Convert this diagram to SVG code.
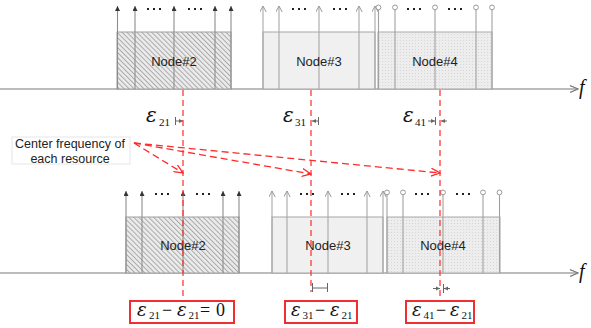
<svg xmlns="http://www.w3.org/2000/svg" width="591" height="328" viewBox="0 0 591 328">
<style>
.axis{stroke:#7a7a7a;stroke-width:1.2;fill:none}
.l2{stroke:#8c8c8c;stroke-width:1.1}
.l3{stroke:#a8a8a8;stroke-width:1.1}
.l4{stroke:#a0a0a0;stroke-width:1.1}
.r2{fill:url(#hatch);stroke:#a0a0a0;stroke-width:1}
.r3{fill:#f0f0f0;stroke:#a6a6a6;stroke-width:1}
.r4{fill:url(#dots);stroke:#aaa;stroke-width:1}
.lbl{font-family:"Liberation Sans","Open Sans",sans-serif;font-size:13px;fill:#222;text-anchor:middle}
.dot{fill:#222}
.red{stroke:#ff2a2a;stroke-width:1.3;stroke-dasharray:7,4;fill:none}
.redv{stroke:#ff2a2a;stroke-width:1.2;stroke-dasharray:6,4;fill:none}
.eps{font-family:"Liberation Serif","DejaVu Serif",serif;fill:#111}
.e{font-family:"DejaVu Serif",serif;font-style:italic;font-size:20px}
.eb{font-family:"DejaVu Serif",serif;font-style:italic;font-size:18px}
.s{font-size:11px}
.box{fill:#fff;stroke:#f03030;stroke-width:2}
.mk{stroke:#666;stroke-width:1;fill:none}
.call{font-family:"Liberation Sans","Open Sans",sans-serif;font-size:12.5px;fill:#222;text-anchor:middle}
</style>
<defs>
<pattern id="hatch" width="3.5" height="3.5" patternUnits="userSpaceOnUse" patternTransform="rotate(-45)">
<rect width="3.5" height="3.5" fill="#ebebeb"/>
<line x1="0.5" y1="0" x2="0.5" y2="3.5" stroke="#a3a3a3" stroke-width="0.9"/>
</pattern>
<pattern id="dots" width="3" height="3" patternUnits="userSpaceOnUse">
<rect width="3" height="3" fill="#ededed"/>
<rect x="1" y="1" width="1" height="1" fill="#d6d6d6"/>
</pattern>
<marker id="axh" markerUnits="userSpaceOnUse" markerWidth="9" markerHeight="8" refX="8" refY="4" orient="auto">
<path d="M0,0.5 L8,4 L0,7.5" fill="none" stroke="#7a7a7a" stroke-width="1.2"/>
</marker>
<marker id="fh" markerUnits="userSpaceOnUse" markerWidth="6" markerHeight="6" refX="5" refY="2.5" orient="auto">
<path d="M0,0 L5,2.5 L0,5 z" fill="#333"/>
</marker>
<marker id="oh" markerUnits="userSpaceOnUse" markerWidth="7" markerHeight="8" refX="6" refY="3.5" orient="auto">
<path d="M0,0.3 L6,3.5 L0,6.7" fill="none" stroke="#999" stroke-width="1"/>
</marker>
<marker id="ch" markerUnits="userSpaceOnUse" markerWidth="7" markerHeight="7" refX="0.6" refY="3.5" orient="auto">
<circle cx="3.2" cy="3.5" r="2.4" fill="#fff" stroke="#999" stroke-width="1"/>
</marker>
<marker id="rh" markerUnits="userSpaceOnUse" markerWidth="10" markerHeight="9" refX="9" refY="4.5" orient="auto">
<path d="M0,0.5 L9,4.5 L0,8.5" fill="none" stroke="#ff2a2a" stroke-width="1.3"/>
</marker>
<marker id="sh" markerUnits="userSpaceOnUse" markerWidth="5" markerHeight="5" refX="4" refY="2.5" orient="auto">
<path d="M0,0.5 L4,2.5 L0,4.5 z" fill="#666"/>
</marker>
</defs>
<rect width="591" height="328" fill="#fff"/>

<g id="axes">
<line class="axis" x1="0" y1="89" x2="578" y2="89" marker-end="url(#axh)"/>
<text x="579" y="94" class="eps" style="font-style:italic;font-size:20px">f</text>
<line class="axis" x1="0" y1="273" x2="578" y2="273" marker-end="url(#axh)"/>
<text x="579" y="278" class="eps" style="font-style:italic;font-size:20px">f</text>
</g>

<g id="top-node2">
<rect class="r2" x="117" y="32" width="114" height="57"/>
<g class="l2" marker-end="url(#fh)">
<line x1="117.5" y1="89" x2="117.5" y2="6"/>
<line x1="135" y1="89" x2="135" y2="6"/>
<line x1="174" y1="89" x2="174" y2="6"/>
<line x1="215" y1="89" x2="215" y2="6"/>
<line x1="231" y1="89" x2="231" y2="6"/>
</g>
<g class="dot">
<rect x="147" y="8" width="2" height="2"/><rect x="153" y="8" width="2" height="2"/><rect x="159" y="8" width="2" height="2"/>
<rect x="188" y="8" width="2" height="2"/><rect x="194" y="8" width="2" height="2"/><rect x="200" y="8" width="2" height="2"/>
</g>
<text class="lbl" x="174" y="66">Node#2</text>
</g>

<g id="top-node3">
<rect class="r3" x="263" y="32" width="112" height="57"/>
<g class="l3" marker-end="url(#oh)">
<line x1="263" y1="89" x2="263" y2="6"/>
<line x1="279" y1="89" x2="279" y2="6"/>
<line x1="319" y1="89" x2="319" y2="6"/>
<line x1="359" y1="89" x2="359" y2="6"/>
<line x1="375" y1="89" x2="375" y2="6"/>
</g>
<g class="dot">
<rect x="292" y="8" width="2" height="2"/><rect x="298" y="8" width="2" height="2"/><rect x="304" y="8" width="2" height="2"/>
<rect x="333" y="8" width="2" height="2"/><rect x="339" y="8" width="2" height="2"/><rect x="345" y="8" width="2" height="2"/>
</g>
<text class="lbl" x="319" y="66">Node#3</text>
</g>

<g id="top-node4">
<rect class="r4" x="378" y="32" width="114" height="57"/>
<g class="l4" marker-end="url(#ch)">
<line x1="378.5" y1="89" x2="378.5" y2="10"/>
<line x1="395" y1="89" x2="395" y2="10"/>
<line x1="435" y1="89" x2="435" y2="10"/>
<line x1="476" y1="89" x2="476" y2="10"/>
<line x1="492" y1="89" x2="492" y2="10"/>
</g>
<g class="dot">
<rect x="407" y="8" width="2" height="2"/><rect x="413" y="8" width="2" height="2"/><rect x="419" y="8" width="2" height="2"/>
<rect x="448" y="8" width="2" height="2"/><rect x="454" y="8" width="2" height="2"/><rect x="460" y="8" width="2" height="2"/>
</g>
<text class="lbl" x="435" y="66">Node#4</text>
</g>

<g id="bottom-node2">
<rect class="r2" x="126" y="217" width="113" height="56"/>
<g class="l2" marker-end="url(#fh)">
<line x1="126" y1="273" x2="126" y2="191"/>
<line x1="142" y1="273" x2="142" y2="191"/>
<line x1="183" y1="273" x2="183" y2="191"/>
<line x1="223" y1="273" x2="223" y2="191"/>
<line x1="239" y1="273" x2="239" y2="191"/>
</g>
<g class="dot">
<rect x="155" y="193" width="2" height="2"/><rect x="161" y="193" width="2" height="2"/><rect x="167" y="193" width="2" height="2"/>
<rect x="196" y="193" width="2" height="2"/><rect x="202" y="193" width="2" height="2"/><rect x="208" y="193" width="2" height="2"/>
</g>
<text class="lbl" x="183" y="250">Node#2</text>
</g>

<g id="bottom-node3">
<rect class="r3" x="272" y="217" width="111" height="56"/>
<g class="l3" marker-end="url(#oh)">
<line x1="272" y1="273" x2="272" y2="191"/>
<line x1="287" y1="273" x2="287" y2="191"/>
<line x1="328" y1="273" x2="328" y2="191"/>
<line x1="367" y1="273" x2="367" y2="191"/>
<line x1="383" y1="273" x2="383" y2="191"/>
</g>
<g class="dot">
<rect x="300" y="193" width="2" height="2"/><rect x="306" y="193" width="2" height="2"/><rect x="312" y="193" width="2" height="2"/>
<rect x="341" y="193" width="2" height="2"/><rect x="347" y="193" width="2" height="2"/><rect x="353" y="193" width="2" height="2"/>
</g>
<text class="lbl" x="328" y="250">Node#3</text>
</g>

<g id="bottom-node4">
<rect class="r4" x="387" y="217" width="113" height="56"/>
<g class="l4" marker-end="url(#ch)">
<line x1="387" y1="273" x2="387" y2="195"/>
<line x1="403" y1="273" x2="403" y2="195"/>
<line x1="443" y1="273" x2="443" y2="195"/>
<line x1="483" y1="273" x2="483" y2="195"/>
<line x1="499.5" y1="273" x2="499.5" y2="195"/>
</g>
<g class="dot">
<rect x="415" y="193" width="2" height="2"/><rect x="421" y="193" width="2" height="2"/><rect x="427" y="193" width="2" height="2"/>
<rect x="456" y="193" width="2" height="2"/><rect x="462" y="193" width="2" height="2"/><rect x="468" y="193" width="2" height="2"/>
</g>
<text class="lbl" x="443" y="250">Node#4</text>
</g>

<g id="eps21">
<text class="eps" y="122"><tspan class="e" x="146">ε</tspan><tspan class="s" x="159" dy="4">21</tspan></text>
<g class="mk"><line x1="175.5" y1="117" x2="175.5" y2="125"/><line x1="176" y1="121" x2="183" y2="121" marker-end="url(#sh)"/></g>
</g>
<g id="eps31">
<text class="eps" y="122"><tspan class="e" x="283">ε</tspan><tspan class="s" x="295" dy="4">31</tspan></text>
<g class="mk"><line x1="318.5" y1="117" x2="318.5" y2="125"/><line x1="318" y1="121" x2="312" y2="121" marker-end="url(#sh)"/></g>
</g>
<g id="eps41">
<text class="eps" y="122"><tspan class="e" x="403">ε</tspan><tspan class="s" x="415" dy="4">41</tspan></text>
<g class="mk"><line x1="435.5" y1="117" x2="435.5" y2="125"/><line x1="428" y1="121" x2="435" y2="121" marker-end="url(#sh)"/><line x1="447" y1="121" x2="441" y2="121" marker-end="url(#sh)"/></g>
</g>

<g id="callout">
<rect x="12" y="137" width="118" height="27" fill="#fff" stroke="#e6e6e6" stroke-width="1"/>
<text class="call" x="70" y="148">Center frequency of</text>
<text class="call" x="70" y="163">each resource</text>
</g>

<g id="mark-b3" class="mk">
<line x1="312.5" y1="283" x2="312.5" y2="292"/><line x1="327.5" y1="283" x2="327.5" y2="292"/><line x1="313" y1="288" x2="327" y2="288"/>
</g>
<g id="mark-b4" class="mk">
<line x1="443.5" y1="284" x2="443.5" y2="293"/><line x1="433" y1="288.5" x2="440" y2="288.5" marker-end="url(#sh)"/><line x1="450" y1="288.5" x2="444" y2="288.5" marker-end="url(#sh)"/>
</g>

<g id="box1">
<rect class="box" x="130" y="301" width="104" height="22"/>
<text class="eps" y="316"><tspan class="eb" x="137">ε</tspan><tspan class="s" x="149" dy="3">21</tspan><tspan x="162" dy="-3" style="font-size:18px">−</tspan><tspan class="eb" x="177">ε</tspan><tspan class="s" x="188.5" dy="3">21</tspan><tspan x="200" dy="-3" style="font-size:18px">=</tspan><tspan x="216" style="font-size:18px">0</tspan></text>
</g>
<g id="box2">
<rect class="box" x="285" y="301" width="72" height="22"/>
<text class="eps" y="316"><tspan class="eb" x="291">ε</tspan><tspan class="s" x="302.5" dy="3">31</tspan><tspan x="315" dy="-3" style="font-size:18px">−</tspan><tspan class="eb" x="330">ε</tspan><tspan class="s" x="341.5" dy="3">21</tspan></text>
</g>
<g id="box3">
<rect class="box" x="406" y="301" width="68" height="22"/>
<text class="eps" y="316"><tspan class="eb" x="412">ε</tspan><tspan class="s" x="423.5" dy="3">41</tspan><tspan x="436" dy="-3" style="font-size:18px">−</tspan><tspan class="eb" x="450">ε</tspan><tspan class="s" x="461.5" dy="3">21</tspan></text>
</g>

<g id="connectors">
<line class="redv" x1="183" y1="90" x2="183" y2="299"/>
<line class="redv" x1="311" y1="90" x2="311" y2="292"/>
<line class="redv" x1="440" y1="90" x2="440" y2="297"/>
<line class="red" x1="134" y1="143" x2="183" y2="173" marker-end="url(#rh)"/>
<line class="red" x1="134" y1="143" x2="311" y2="174" marker-end="url(#rh)"/>
<line class="red" x1="134" y1="143" x2="440" y2="173" marker-end="url(#rh)"/>
</g>
</svg>
